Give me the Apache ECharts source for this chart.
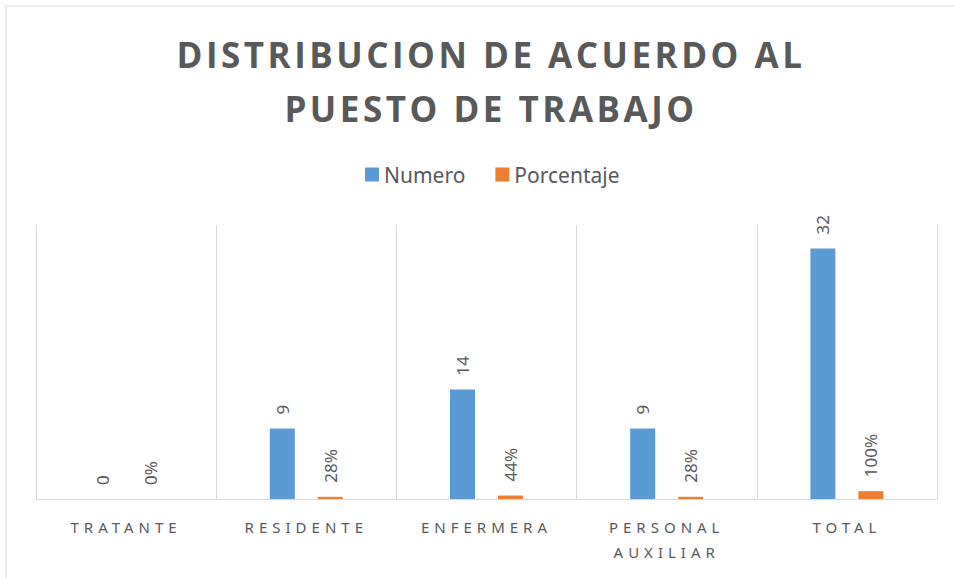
<!DOCTYPE html>
<html>
<head>
<meta charset="utf-8">
<script src="https://cdn.jsdelivr.net/npm/echarts@6/dist/echarts.min.js"></script>
<style>
  html, body { margin: 0; padding: 0; background: #fff; }
  #chart { width: 954px; height: 578px; }
</style>
</head>
<body>
<div id="chart"></div>
<script>
// datos
const categorias = ["TRATANTE", "RESIDENTE", "ENFERMERA", "PERSONAL\nAUXILIAR", "TOTAL"];
const numero = [0, 9, 14, 9, 32];
const porcentaje = [0, 0.28, 0.44, 0.28, 1];

const gris = "#595959";
const chart = echarts.init(document.getElementById("chart"), null, { renderer: "svg" });

const etiqueta = {
  show: true,
  position: "top",
  rotate: 90,
  align: "left",
  verticalAlign: "middle",
  distance: 14,
  color: gris,
  fontSize: 17,
  fontFamily: "Noto Sans"
};

chart.setOption({
  animation: false,
  title: {
    text: "DISTRIBUCION DE ACUERDO AL\nPUESTO DE TRABAJO",
    left: 486,
    textAlign: "center",
    top: 22,
    textStyle: {
      color: gris,
      fontSize: 35,
      fontWeight: "bold",
      fontFamily: "Open Sans",
      lineHeight: 54
    }
  },
  legend: {
    top: 159,
    left: 360,
    itemWidth: 14,
    itemHeight: 14,
    itemGap: 30,
    icon: "rect",
    textStyle: { color: gris, fontSize: 21, fontFamily: "Noto Sans" },
    data: ["Numero", "Porcentaje"]
  },
  grid: { left: 36, right: 17, top: 225, bottom: 79 },
  xAxis: {
    type: "category",
    data: categorias,
    axisLine: { lineStyle: { color: "#d9d9d9" } },
    axisTick: { show: false },
    splitLine: { show: true, lineStyle: { color: "#d9d9d9" } },
    axisLabel: {
      color: gris,
      fontSize: 15,
      fontFamily: "Noto Sans",
      margin: 15,
      lineHeight: 25,
      interval: 0
    }
  },
  yAxis: {
    type: "value",
    min: 0,
    max: 35,
    show: false,
    splitLine: { show: false }
  },
  graphic: [{
    type: "rect",
    shape: { x: 6, y: 6, width: 1000, height: 700 },
    style: { fill: "none", stroke: "#d9d9d9", lineWidth: 1 },
    silent: true
  }],
  series: [
    {
      name: "Numero",
      type: "bar",
      data: numero,
      barWidth: 25,
      barGap: "92%",
      itemStyle: { color: "#5B9BD5" },
      label: etiqueta
    },
    {
      name: "Porcentaje",
      type: "bar",
      data: porcentaje,
      barWidth: 25,
      itemStyle: { color: "#ED7D31" },
      label: Object.assign({}, etiqueta, {
        formatter: (p) => Math.round(p.value * 100) + "%"
      })
    }
  ]
});

// espaciado de letras para titulo y categorias
function espaciar() {
  document.querySelectorAll("#chart text").forEach((t) => {
    const s = t.textContent.trim();
    if (/^[A-Z ]+$/.test(s)) {
      const font = (t.getAttribute("style") || "") + (t.style.font || "");
      t.style.letterSpacing = /bold/.test(font) ? "3.5px" : "5px";
    }
  });
}
chart.on("finished", espaciar);
espaciar();
</script>
</body>
</html>
